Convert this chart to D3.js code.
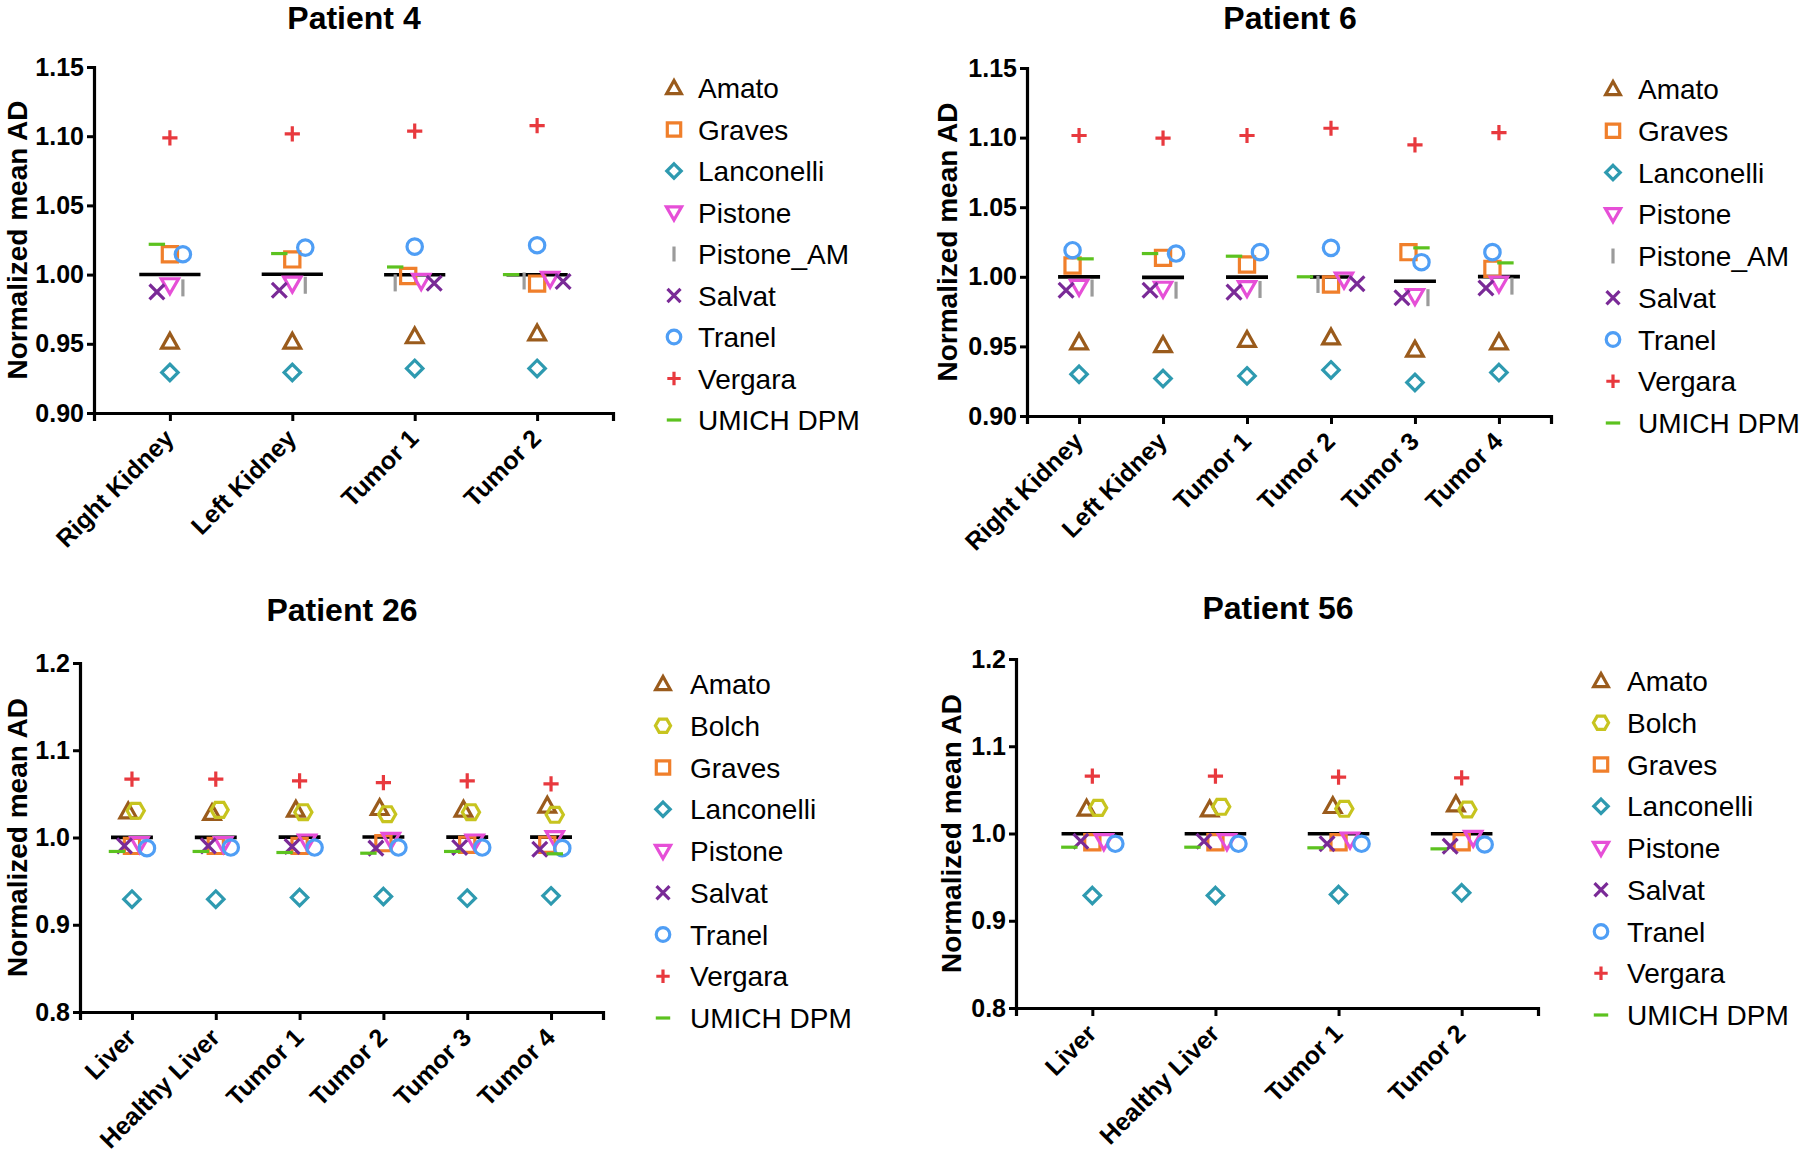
<!DOCTYPE html>
<html><head><meta charset="utf-8">
<script src="https://cdn.jsdelivr.net/npm/d3@7"></script>
<style>
body{margin:0;background:#fff}
svg{display:block}
text{font-family:"Liberation Sans",Arial,Helvetica,sans-serif}
</style>
</head><body>
<svg id="chart" width="1800" height="1154"></svg>
<script>
// ---------------- DATA ----------------
const p4Categories = ["Right Kidney","Left Kidney","Tumor 1","Tumor 2"];
const p4Ticks = [0.90,0.95,1.00,1.05,1.10,1.15];
const p4Amato      = [0.9514,0.9514,0.9553,0.9574];
const p4Graves     = [1.0147,1.0110,0.9990,0.9935];
const p4Lanconelli = [0.9293,0.9293,0.9322,0.9322];
const p4Pistone    = [0.9923,0.9935,0.9954,0.9970];
const p4PistoneAM  = [0.9904,0.9923,0.9940,0.9954];
const p4Salvat     = [0.9875,0.9887,0.9937,0.9950];
const p4Tranel     = [1.0147,1.0195,1.0202,1.0212];
const p4Vergara    = [1.0988,1.1017,1.1037,1.1077];
const p4Umich      = [1.0219,1.0152,1.0055,1.0000];

const p6Categories = ["Right Kidney","Left Kidney","Tumor 1","Tumor 2","Tumor 3","Tumor 4"];
const p6Ticks = [0.90,0.95,1.00,1.05,1.10,1.15];
const p6Amato      = [0.9527,0.9508,0.9546,0.9563,0.9475,0.9527];
const p6Graves     = [1.0081,1.0136,1.0088,0.9945,1.0177,1.0057];
const p6Lanconelli = [0.9300,0.9269,0.9288,0.9331,0.9241,0.9312];
const p6Pistone    = [0.9928,0.9914,0.9919,0.9980,0.9862,0.9952];
const p6PistoneAM  = [0.9919,0.9904,0.9909,0.9945,0.9850,0.9933];
const p6Salvat     = [0.9904,0.9904,0.9890,0.9950,0.9850,0.9919];
const p6Tranel     = [1.0191,1.0167,1.0177,1.0208,1.0105,1.0177];
const p6Vergara    = [1.1015,1.0996,1.1015,1.1067,1.0948,1.1036];
const p6Umich      = [1.0129,1.0167,1.0148,1.0000,1.0208,1.0100];

const p26Categories = ["Liver","Healthy Liver","Tumor 1","Tumor 2","Tumor 3","Tumor 4"];
const p26Ticks = [0.8,0.9,1.0,1.1,1.2];
const p26Amato      = [1.0298,1.0279,1.0317,1.0336,1.0317,1.0363];
const p26Bolch      = [1.0306,1.0317,1.0290,1.0267,1.0290,1.0260];
const p26Graves     = [0.9904,0.9904,0.9904,0.9935,0.9916,0.9916];
const p26Lanconelli = [0.9293,0.9293,0.9312,0.9324,0.9305,0.9331];
const p26Pistone    = [0.9924,0.9924,0.9954,0.9973,0.9954,0.9992];
const p26Salvat     = [0.9904,0.9904,0.9897,0.9878,0.9885,0.9866];
const p26Tranel     = [0.9878,0.9885,0.9885,0.9885,0.9885,0.9878];
const p26Vergara    = [1.0669,1.0669,1.0650,1.0630,1.0650,1.0615];
const p26Umich      = [0.9840,0.9840,0.9828,0.9820,0.9840,0.9813];

const p56Categories = ["Liver","Healthy Liver","Tumor 1","Tumor 2"];
const p56Ticks = [0.8,0.9,1.0,1.1,1.2];
const p56Amato      = [1.0283,1.0275,1.0313,1.0332];
const p56Bolch      = [1.0294,1.0306,1.0283,1.0275];
const p56Graves     = [0.9900,0.9900,0.9900,0.9900];
const p56Lanconelli = [0.9289,0.9289,0.9300,0.9320];
const p56Pistone    = [0.9912,0.9912,0.9931,0.9950];
const p56Salvat     = [0.9912,0.9912,0.9882,0.9855];
const p56Tranel     = [0.9882,0.9882,0.9882,0.9874];
const p56Vergara    = [1.0657,1.0657,1.0646,1.0638];
const p56Umich      = [0.9843,0.9843,0.9836,0.9824];

// ---------------- STYLE ----------------
const markerStyle = {
  "Amato":      {color:"#9a5b1c", shape:"triUp"},
  "Bolch":      {color:"#c7c41f", shape:"hex"},
  "Graves":     {color:"#f07f2b", shape:"square"},
  "Lanconelli": {color:"#2e9ab0", shape:"diamond"},
  "Pistone":    {color:"#e64fd7", shape:"triDown"},
  "Pistone_AM": {color:"#9b9b9b", shape:"vline"},
  "Salvat":     {color:"#7a2a97", shape:"times"},
  "Tranel":     {color:"#4f9ef5", shape:"circle"},
  "Vergara":    {color:"#e8393e", shape:"plus"},
  "UMICH DPM":  {color:"#5cc21f", shape:"hline"}
};
function shapePath(shape, k){
  const p = d3.path();
  switch(shape){
    case "triUp": p.moveTo(0,-8.5*k); p.lineTo(8.3*k,6.3*k); p.lineTo(-8.3*k,6.3*k); p.closePath(); break;
    case "triDown": p.moveTo(0,8.5*k); p.lineTo(8.6*k,-6.5*k); p.lineTo(-8.6*k,-6.5*k); p.closePath(); break;
    case "square": p.rect(-7.6*k,-7.6*k,15.2*k,15.2*k); break;
    case "diamond": p.moveTo(0,-8.2*k); p.lineTo(8.2*k,0); p.lineTo(0,8.2*k); p.lineTo(-8.2*k,0); p.closePath(); break;
    case "circle": p.arc(0,0,7.7*k,0,2*Math.PI); p.closePath(); break;
    case "hex": for(let i=0;i<6;i++){const a=Math.PI/3*i; const x=8.6*k*Math.cos(a), y=8.6*k*Math.sin(a); if(i===0)p.moveTo(x,y); else p.lineTo(x,y);} p.closePath(); break;
    case "times": p.moveTo(-7.4*k,-7.4*k); p.lineTo(7.4*k,7.4*k); p.moveTo(-7.4*k,7.4*k); p.lineTo(7.4*k,-7.4*k); break;
    case "plus": p.moveTo(-7.6*k,0); p.lineTo(7.6*k,0); p.moveTo(0,-7.6*k); p.lineTo(0,7.6*k); break;
    case "vline": p.moveTo(0,-8.5*k); p.lineTo(0,8.5*k); break;
    case "hline": p.moveTo(-8.2*k,0); p.lineTo(8.2*k,0); break;
  }
  return p.toString();
}

const panels = [
  {title:"Patient 4", cats:p4Categories, ticks:p4Ticks, fmt:".2f",
   series:[["Amato",p4Amato],["Graves",p4Graves],["Lanconelli",p4Lanconelli],["Pistone",p4Pistone],["Pistone_AM",p4PistoneAM],["Salvat",p4Salvat],["Tranel",p4Tranel],["Vergara",p4Vergara],["UMICH DPM",p4Umich]],
   x0:94, x1:613, yTop:67, yBot:413, titleX:354, titleY:16, axTitleX:16, legSym:674, legText:698, legY:88, legStep:41.5, slot:13},
  {title:"Patient 6", cats:p6Categories, ticks:p6Ticks, fmt:".2f",
   series:[["Amato",p6Amato],["Graves",p6Graves],["Lanconelli",p6Lanconelli],["Pistone",p6Pistone],["Pistone_AM",p6PistoneAM],["Salvat",p6Salvat],["Tranel",p6Tranel],["Vergara",p6Vergara],["UMICH DPM",p6Umich]],
   x0:1027, x1:1551, yTop:68, yBot:416, titleX:1290, titleY:16, axTitleX:946, legSym:1613, legText:1638, legY:89, legStep:41.75, slot:13},
  {title:"Patient 26", cats:p26Categories, ticks:p26Ticks, fmt:".1f",
   series:[["Amato",p26Amato],["Bolch",p26Bolch],["Graves",p26Graves],["Lanconelli",p26Lanconelli],["Pistone",p26Pistone],["Salvat",p26Salvat],["Tranel",p26Tranel],["Vergara",p26Vergara],["UMICH DPM",p26Umich]],
   x0:80, x1:603, yTop:663, yBot:1012, titleX:342, titleY:608, axTitleX:16, legSym:663, legText:690, legY:684, legStep:41.75, slot:7.5},
  {title:"Patient 56", cats:p56Categories, ticks:p56Ticks, fmt:".1f",
   series:[["Amato",p56Amato],["Bolch",p56Bolch],["Graves",p56Graves],["Lanconelli",p56Lanconelli],["Pistone",p56Pistone],["Salvat",p56Salvat],["Tranel",p56Tranel],["Vergara",p56Vergara],["UMICH DPM",p56Umich]],
   x0:1016, x1:1538, yTop:659, yBot:1008, titleX:1278, titleY:606, axTitleX:950, legSym:1601, legText:1627, legY:681, legStep:41.75, slot:11.5}
];

// beeswarm-like dodge of overlapping points
function dodge(points, s, dyLim){
  const placed = [];
  points.forEach(p=>{
    for(let k=0;k<40;k++){
      const slot = k===0 ? 0 : (k%2 ? Math.ceil(k/2) : -k/2);
      if(!placed.some(q=>q.slot===slot && Math.abs(q.py-p.py)<dyLim)){p.slot=slot; placed.push(p); break;}
    }
  });
  const parent = placed.map((_,i)=>i);
  const find = i=> parent[i]===i?i:(parent[i]=find(parent[i]));
  for(let i=0;i<placed.length;i++)for(let j=i+1;j<placed.length;j++){
    const a=placed[i], b=placed[j];
    if(Math.abs(a.py-b.py)<dyLim && Math.abs(a.slot-b.slot)<=1) parent[find(i)]=find(j);
  }
  const groups = d3.group(placed.map((p,i)=>[find(i),p]), d=>d[0]);
  groups.forEach(arr=>{
    const sl = arr.map(d=>d[1].slot);
    const c = (d3.min(sl)+d3.max(sl))/2;
    arr.forEach(d=>{d[1].dx = (d[1].slot - c)*s;});
  });
}

const svg = d3.select("#chart");

panels.forEach(P=>{
  const g = svg.append("g");
  const x = d3.scalePoint().domain(P.cats).range([P.x0,P.x1]).padding(0.62);
  const y = d3.scaleLinear().domain([P.ticks[0], P.ticks[P.ticks.length-1]]).range([P.yBot,P.yTop]);

  const yAxis = g.append("g").attr("transform",`translate(${P.x0},0)`)
    .call(d3.axisLeft(y).tickValues(P.ticks).tickFormat(d3.format(P.fmt)).tickSizeOuter(0).tickSize(7).tickPadding(3));
  const xAxis = g.append("g").attr("transform",`translate(0,${P.yBot})`)
    .call(d3.axisBottom(x).tickSizeOuter(0).tickSize(8));
  [yAxis,xAxis].forEach(a=>{
    a.select(".domain").attr("stroke","#000").attr("stroke-width",3.2);
    a.selectAll(".tick line").attr("stroke","#000").attr("stroke-width",3);
    a.selectAll("text").attr("fill","#000").attr("font-weight","bold").attr("font-size",25)
     .attr("font-family",'"Liberation Sans",Arial,sans-serif');
  });
  xAxis.selectAll(".tick text").attr("x",0).attr("y",0).attr("dy",null)
    .attr("text-anchor","end").attr("transform","translate(5,27) rotate(-45)");

  g.append("text").attr("x",P.titleX).attr("y",P.titleY+13).attr("text-anchor","middle")
    .attr("font-weight","bold").attr("font-size",32).text(P.title);
  g.append("text").attr("transform",`translate(${P.axTitleX+11},${(P.yTop+P.yBot)/2}) rotate(-90)`)
    .attr("text-anchor","middle").attr("font-weight","bold").attr("font-size",28).text("Normalized mean AD");

  const step = x.step();
  P.cats.forEach((c,i)=>{
    const m = d3.mean(P.series, s=>s[1][i]);
    g.append("line").attr("x1",x(c)-step*0.25).attr("x2",x(c)+step*0.25)
      .attr("y1",y(m)).attr("y2",y(m)).attr("stroke","#000").attr("stroke-width",3.6);
  });

  const pts = [];
  P.cats.forEach((c,i)=>{
    const col = P.series.map(s=>({name:s[0], v:s[1][i], cat:c, py:y(s[1][i])}));
    dodge(col, P.slot, 14);
    pts.push(...col);
  });
  g.append("g").selectAll("path").data(pts).join("path")
    .attr("transform",d=>`translate(${x(d.cat)+d.dx},${y(d.v)})`)
    .attr("d",d=>shapePath(markerStyle[d.name].shape,1))
    .attr("fill","none").attr("stroke",d=>markerStyle[d.name].color).attr("stroke-width",3.2);

  const leg = g.append("g");
  P.series.forEach((s,i)=>{
    const yy = P.legY + i*P.legStep;
    leg.append("path").attr("transform",`translate(${P.legSym},${yy})`)
      .attr("d",shapePath(markerStyle[s[0]].shape,0.88)).attr("fill","none")
      .attr("stroke",markerStyle[s[0]].color).attr("stroke-width",3.2);
    leg.append("text").attr("x",P.legText).attr("y",yy+10).attr("font-size",28).attr("fill","#000").text(s[0]);
  });
});
</script>
</body></html>
